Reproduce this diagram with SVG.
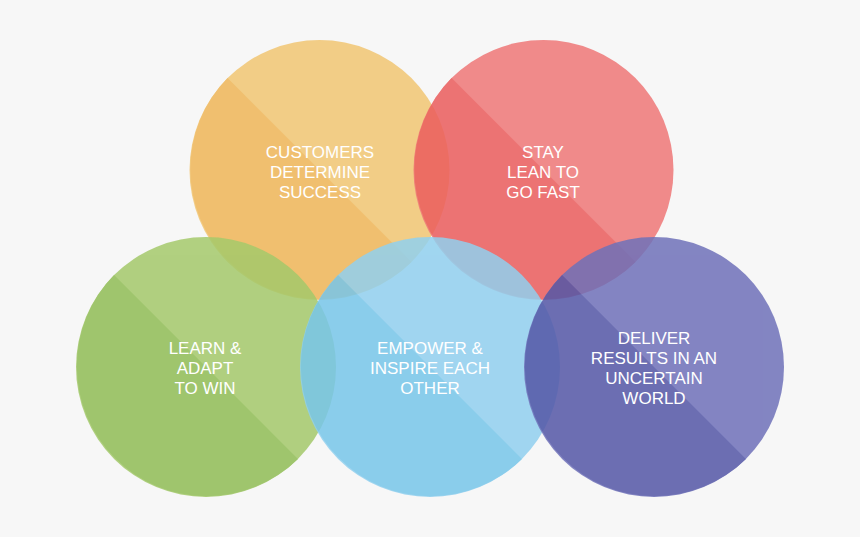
<svg xmlns="http://www.w3.org/2000/svg" width="860" height="537" viewBox="0 0 860 537">
  <style>
    .c { opacity: 0.85; }
    .t { font-family: "Liberation Sans", Arial, sans-serif; font-size: 17px; fill: #ffffff; text-anchor: middle; }
  </style>
  <rect width="860" height="537" fill="#f7f7f7"/>
  <g id="customers" class="c">
    <circle cx="319.5" cy="170" r="130" fill="#F2C673"/>
    <path d="M227.58,78.08 A130,130 0 0 0 411.42,261.92 Z" fill="#EFB658"/>
  </g>
  <g id="lean" class="c">
    <circle cx="543.5" cy="170" r="130" fill="#EF7777"/>
    <path d="M451.58,78.08 A130,130 0 0 0 635.42,261.92 Z" fill="#EB5D5D"/>
  </g>
  <g id="learn" class="c">
    <circle cx="206" cy="367" r="130" fill="#A4C96B"/>
    <path d="M114.08,275.08 A130,130 0 0 0 297.92,458.92 Z" fill="#90BD55"/>
  </g>
  <g id="empower" class="c">
    <circle cx="430" cy="367" r="130" fill="#91D0EF"/>
    <path d="M338.08,275.08 A130,130 0 0 0 521.92,458.92 Z" fill="#78C6EA"/>
  </g>
  <g id="deliver" class="c">
    <circle cx="654" cy="367" r="130" fill="#6F71B9"/>
    <path d="M562.08,275.08 A130,130 0 0 0 745.92,458.92 Z" fill="#5457A7"/>
  </g>
  <g id="labels">
    <text class="t" x="320" y="158">CUSTOMERS</text>
    <text class="t" x="320" y="178">DETERMINE</text>
    <text class="t" x="320" y="198">SUCCESS</text>
    <text class="t" x="543" y="158">STAY</text>
    <text class="t" x="543" y="178">LEAN TO</text>
    <text class="t" x="543" y="198">GO FAST</text>
    <text class="t" x="205" y="354">LEARN &amp;</text>
    <text class="t" x="205" y="374">ADAPT</text>
    <text class="t" x="205" y="394">TO WIN</text>
    <text class="t" x="430" y="354">EMPOWER &amp;</text>
    <text class="t" x="430" y="374">INSPIRE EACH</text>
    <text class="t" x="430" y="394">OTHER</text>
    <text class="t" x="654" y="344">DELIVER</text>
    <text class="t" x="654" y="364">RESULTS IN AN</text>
    <text class="t" x="654" y="384">UNCERTAIN</text>
    <text class="t" x="654" y="404">WORLD</text>
  </g>
</svg>
